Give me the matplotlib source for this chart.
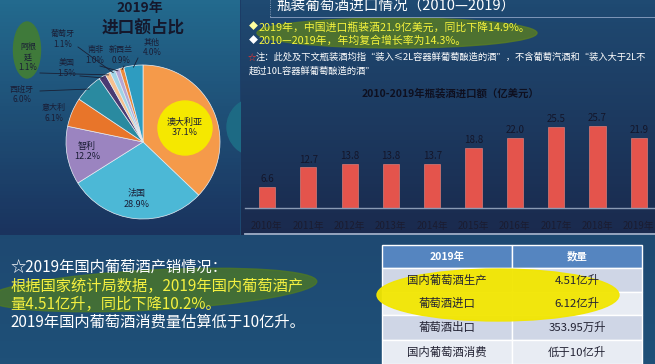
import numpy as np
import matplotlib.pyplot as plt
from matplotlib.patches import Ellipse, Circle, Rectangle
from matplotlib.colors import to_rgb

plt.rcParams['font.family'] = ['Noto Sans CJK SC', 'DejaVu Sans']

W, H = 655, 364

# pie: 2019 import share by country
countries = ['澳大利亚', '法国', '智利', '意大利', '西班牙', '美国', '阿根\n廷', '葡萄牙', '南非', '新西兰', '其他']
shares = [37.1, 28.9, 12.2, 6.1, 6.0, 1.5, 1.1, 1.1, 1.0, 0.9, 4.0]
pie_colors = ['#f59a4a', '#4cb8d6', '#9b84c0', '#e8752a', '#2a8aa0',
              '#4a3a72', '#f7c08e', '#9fd3e6', '#b7a6d4', '#ee8a3a', '#2e9cc0']

# bars: bottled wine imports 2010-2019 (100M USD)
years = ['2010年', '2011年', '2012年', '2013年', '2014年',
         '2015年', '2016年', '2017年', '2018年', '2019年']
imports = [6.6, 12.7, 13.8, 13.8, 13.7, 18.8, 22.0, 25.5, 25.7, 21.9]

# table
table_header = ['2019年', '数量']
table_items = ['国内葡萄酒生产', '葡萄酒进口', '葡萄酒出口', '国内葡萄酒消费']
table_values = ['4.51亿升', '6.12亿升', '353.95万升', '低于10亿升']


def box(x0, y0, x1, y1):
    return [x0 / W, 1 - y1 / H, (x1 - x0) / W, (y1 - y0) / H]


def grad(ax, x0, y0, x1, y1, c0, c1, z=0):
    c0, c1 = np.array(to_rgb(c0)), np.array(to_rgb(c1))
    t = np.linspace(0, 1, 64)[:, None]
    arr = (c0 * (1 - t) + c1 * t)[:, None, :]
    ax.imshow(arr, extent=(x0, x1, y1, y0), aspect='auto', zorder=z)


def pixel_axes(fig):
    ax = fig.add_axes([0, 0, 1, 1])
    ax.set_xlim(0, W)
    ax.set_ylim(H, 0)
    ax.axis('off')
    ax.patch.set_alpha(0)
    return ax


fig = plt.figure(figsize=(6.55, 3.64), dpi=100)
bg = pixel_axes(fig)

# backgrounds
grad(bg, 0, 0, W, H, '#1c3c66', '#1f5078')
grad(bg, 0, 0, 240, 235, '#236a8e', '#1a335e')
bg.add_patch(Circle((256, 127), 29, color='#1d6a84', zorder=1))
grad(bg, 241, 0, W, 235, '#1f4a72', '#1a2a4e', z=2)
bg.plot([245, W], [234, 234], color='#9fb0c8', lw=1.3, zorder=3)
bg.set_xlim(0, W)
bg.set_ylim(H, 0)

# ---- pie ----
cx, cy, R = 143, 142, 77
pax = fig.add_axes(box(cx - R, cy - R, cx + R, cy + R))
wedges, _ = pax.pie(shares, colors=pie_colors, startangle=90, counterclock=False,
                    radius=1, wedgeprops=dict(edgecolor='#e8eef5', linewidth=0.5))
pax.set_xlim(-1, 1)
pax.set_ylim(-1, 1)
pax.axis('off')

# overlay for everything drawn above the pie
fg = pixel_axes(fig)

fg.text(140, 8, '2019年', fontsize=10, fontweight='bold', color='#15182c', ha='center', va='center', zorder=5)
fg.text(143, 29, '进口额占比', fontsize=12, fontweight='bold', color='#15182c', ha='center', va='center', zorder=5)

fg.add_patch(Circle((185, 128), 27, color='#f5e800', zorder=5))
fg.add_patch(Ellipse((27, 50), 27, 56, color='#3f7a3a', zorder=5))

label_pos = [(185, 127), (137, 199), (87, 151), (54, 113), (22, 94),
             (67, 68), (28, 57), (63, 39), (95, 55), (121, 55), (152, 47)]
leader_from = [None, None, None, None, (40, 91), (80, 76), (40, 73),
               (78, 47), (100, 66), (124, 66), (138, 58)]
for w, name, s, (lx, ly), lf in zip(wedges, countries, shares, label_pos, leader_from):
    fs = 6.5 if name in ('澳大利亚', '法国', '智利') else 5.8
    fg.text(lx, ly, f'{name}\n{s:.1f}%', fontsize=fs, color='#1a1d35', ha='center',
            va='center', linespacing=1.15, zorder=6)
    if lf is not None:
        ang = np.deg2rad((w.theta1 + w.theta2) / 2)
        px, py = cx + R * 0.98 * np.cos(ang), cy - R * 0.98 * np.sin(ang)
        fg.plot([lf[0], px], [lf[1], py], color='#1a2035', lw=0.6, zorder=6)

# ---- right top text ----
fg.plot([270, 270], [0, 17], color='#a8b8d0', lw=0.6, ls=':', zorder=5)
fg.plot([270, W], [17, 17], color='#8fa4c4', lw=0.6, zorder=5)
fg.text(276, 7, '瓶装葡萄酒进口情况（2010—2019）', fontsize=10.5, color='white', va='center', zorder=6)
fg.add_patch(Ellipse((397, 33), 280, 30, color='#5a7d22', alpha=0.8, zorder=4))
fg.text(249, 27, '◆', fontsize=6.5, color='#ffffa0', va='center', zorder=6)
fg.text(259, 27, '2019年，中国进口瓶装酒21.9亿美元，同比下降14.9%。', fontsize=7.8,
        color='#f6f43c', va='center', zorder=6)
fg.text(249, 41, '◆', fontsize=6.5, color='white', va='center', zorder=6)
fg.text(259, 41, '2010—2019年，年均复合增长率为14.3%。', fontsize=7.8,
        color='#f6f43c', va='center', zorder=6)
fg.text(248, 57, '☆', fontsize=6, color='#e03434', va='center', zorder=6)
fg.text(256, 57, '注：此处及下文瓶装酒均指“装入≤2L容器鲜葡萄酿造的酒”，不含葡萄汽酒和“装入大于2L不',
        fontsize=6.7, color='white', va='center', zorder=6)
fg.text(249, 71, '超过10L容器鲜葡萄酿造的酒”', fontsize=6.7, color='white', va='center', zorder=6)

# ---- bar chart ----
fg.text(450, 93, '2010-2019年瓶装酒进口额（亿美元）', fontsize=7.5, fontweight='bold',
        color='#0e1020', ha='center', va='center', zorder=6)
bax = fig.add_axes(box(245, 100, W, 208))
bax.set_facecolor('none')
x = np.arange(len(years))
bax.bar(x, imports, width=0.39, color='#e4544c', edgecolor='#f08a80', linewidth=0.4)
for i, v in zip(x, imports):
    bax.text(i, v + 0.9, f'{v:.1f}', fontsize=7, color='#14162a', ha='center', va='bottom')
bax.set_xlim(-0.53, 9.39)
bax.set_ylim(0, 33.8)
bax.set_yticks([])
bax.set_xticks(x)
bax.set_xticklabels(years, fontsize=7, color='#1a1c30')
bax.tick_params(axis='x', length=0, pad=9)
for sp in ['top', 'left', 'right']:
    bax.spines[sp].set_visible(False)
bax.spines['bottom'].set_color('#8a9ab4')
bax.spines['bottom'].set_linewidth(1)

# ---- bottom left text ----
fg.add_patch(Ellipse((152, 290), 330, 40, angle=-3, color='#4f7a22', alpha=0.75, zorder=4))
fg.text(10, 267, '☆2019年国内葡萄酒产销情况：', fontsize=11, color='white', va='center', zorder=6)
fg.text(10, 286, '根据国家统计局数据，2019年国内葡萄酒产', fontsize=11, color='#f4f040', va='center', zorder=6)
fg.text(10, 304, '量4.51亿升，同比下降10.2%。', fontsize=11, color='#f4f040', va='center', zorder=6)
fg.text(10, 322, '2019年国内葡萄酒消费量估算低于10亿升。', fontsize=11, color='white', va='center', zorder=6)

# ---- table ----
cols = [382, 512, 642]
rows = [245, 268, 292, 315, 340, 364]
row_colors = ['#cfd6e6', '#e8ecf3', '#cfd6e6', '#e8ecf3']
for j in range(2):
    fg.add_patch(Rectangle((cols[j], rows[0]), cols[j + 1] - cols[j], rows[1] - rows[0],
                           facecolor='#5585c0', edgecolor='white', lw=1, zorder=5))
    fg.text((cols[j] + cols[j + 1]) / 2, (rows[0] + rows[1]) / 2, table_header[j], fontsize=7.5,
            fontweight='bold', color='white', ha='center', va='center', zorder=7)
for i, (item, val) in enumerate(zip(table_items, table_values)):
    for j, txt in enumerate([item, val]):
        fg.add_patch(Rectangle((cols[j], rows[i + 1]), cols[j + 1] - cols[j], rows[i + 2] - rows[i + 1],
                               facecolor=row_colors[i], edgecolor='white', lw=1, zorder=5))
        fg.text((cols[j] + cols[j + 1]) / 2, (rows[i + 1] + rows[i + 2]) / 2, txt, fontsize=8.2,
                color='#222233', ha='center', va='center', zorder=7)
fg.add_patch(Ellipse((498, 295), 242, 52, color='#f2e600', alpha=0.95, zorder=6))

fig.savefig('out.png', dpi=100)
